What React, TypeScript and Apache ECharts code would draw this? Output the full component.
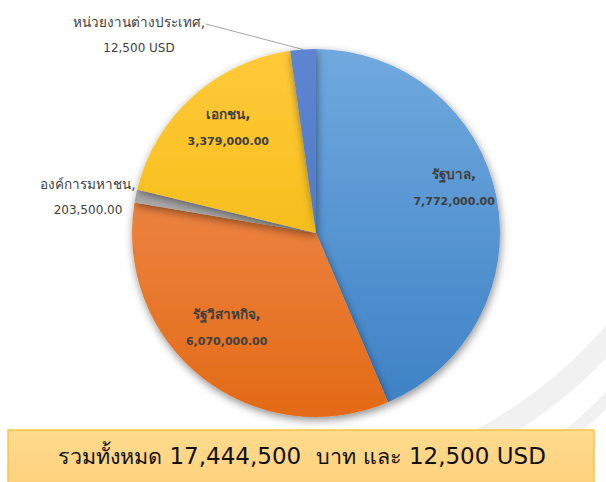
import React, { useEffect, useRef } from "react";
import * as echarts from "echarts";

const categories = ["รัฐบาล", "รัฐวิสาหกิจ", "องค์การมหาชน", "เอกชน", "หน่วยงานต่างประเทศ"];
// pie values in THB (foreign share converted to THB for slice size)
const sliceValues = [7772000, 6070000, 203500, 3379000, 400000];
const shownLabels = ["7,772,000.00", "6,070,000.00", "203,500.00", "3,379,000.00", "12,500 USD"];
const totalTHB = "17,444,500";
const totalUSD = "12,500";

const CX = 316;
const CY = 233;
const R = 184;
const FONT = "Tahoma, 'DejaVu Sans', 'Noto Sans', sans-serif";

function grad(top: string, bottom: string) {
  return new echarts.graphic.LinearGradient(0, CY - R, 0, CY + R, [
    { offset: 0, color: top },
    { offset: 1, color: bottom },
  ], true);
}

export default function App() {
  const ref = useRef<HTMLDivElement>(null);
  useEffect(() => {
    if (!ref.current) return;
    const chart = echarts.init(ref.current, undefined, { renderer: "svg" });
    const colors = [
      grad("#70A9DE", "#3C81C5"),
      grad("#F39460", "#E36A15"),
      grad("#B0B0B0", "#A0A0A0"),
      grad("#FFC93A", "#EDB500"),
      grad("#5E85D0", "#4370C2"),
    ];
    const insideIdx = [0, 1, 3];
    const insideShift: Record<number, [number, number]> = { 0: [0, -17], 1: [-2, -16], 3: [7, -1] };
    const mainData = categories.map((c, i) => ({
      name: c,
      value: sliceValues[i],
      itemStyle: { color: colors[i] },
      label: { show: !insideIdx.includes(i) },
      labelLine: { show: i === 4, lineStyle: { color: "#A6A6A6", width: 1 } },
    }));
    const labelData = categories.map((c, i) => ({
      name: c,
      value: sliceValues[i],
      label: { show: insideIdx.includes(i) },
    }));
    const fmt = (p: any) => `{t|${p.name},}\n{n|${shownLabels[p.dataIndex]}}`;
    chart.setOption({
      animation: false,
      graphic: [
        {
          type: "bezierCurve",
          shape: { x1: 470, y1: 445, cpx1: 560, cpy1: 400, x2: 625, y2: 320 },
          style: { stroke: "#F1F1F1", lineWidth: 22, fill: "none" },
          z: 0,
        },
        {
          type: "bezierCurve",
          shape: { x1: 555, y1: 445, cpx1: 590, cpy1: 420, x2: 625, y2: 380 },
          style: { stroke: "#F1F1F1", lineWidth: 12, fill: "none" },
          z: 0,
        },
        {
          type: "rect",
          shape: { x: 8, y: 430, width: 586, height: 60 },
          style: {
            fill: new echarts.graphic.LinearGradient(0, 0, 0, 1, [
              { offset: 0, color: "#FFDA8E" },
              { offset: 1, color: "#FFD27C" },
            ]),
            stroke: "#F7C548",
            lineWidth: 1.5,
          },
          z: 10,
        },
        {
          type: "text",
          x: 302,
          y: 456,
          style: {
            text: `{t|รวมทั้งหมด} {n|${totalTHB}}  {t|บาท และ} {n|${totalUSD} USD}`,
            rich: {
              t: { fontSize: 21.5, fontFamily: FONT, fill: "#111111" },
              n: { fontSize: 23, fontFamily: FONT, fill: "#111111" },
            },
            fontSize: 23,
            fontFamily: FONT,
            fill: "#111111",
            align: "center",
            verticalAlign: "middle",
          },
          z: 11,
        },
      ],
      series: [
        {
          type: "pie",
          center: [CX, CY],
          radius: R,
          startAngle: 90,
          clockwise: true,
          silent: true,
          avoidLabelOverlap: false,
          itemStyle: {
            shadowBlur: 8,
            shadowColor: "rgba(0,0,0,0.45)",
            shadowOffsetY: 3,
            shadowOffsetX: 1,
          },
          label: {
            position: "outside",
            formatter: fmt,
            color: "#404040",
            fontFamily: FONT,
            align: "center",
            rich: {
              t: { fontSize: 13.5, lineHeight: 26, color: "#404040", fontFamily: FONT, align: "center" },
              n: { fontSize: 12, lineHeight: 26, color: "#404040", fontFamily: FONT, align: "center" },
            },
          },
          labelLayout: (p: any) => {
            if (p.dataIndex === 2) {
              return { x: 88, y: 197, align: "center", verticalAlign: "middle" };
            }
            if (p.dataIndex === 4) {
              const start = p.labelLinePoints && p.labelLinePoints[0] ? p.labelLinePoints[0] : [303, 49];
              return {
                x: 139,
                y: 35,
                align: "center",
                verticalAlign: "middle",
                labelLinePoints: [start, [(start[0] + 206) / 2, (start[1] + 24) / 2], [206, 24]],
              };
            }
            return {};
          },
          data: mainData,
          z: 2,
        },
        {
          type: "pie",
          center: [CX, CY],
          radius: [92, R],
          startAngle: 90,
          clockwise: true,
          silent: true,
          avoidLabelOverlap: false,
          itemStyle: { color: "rgba(0,0,0,0)" },
          label: {
            position: "inside",
            formatter: fmt,
            color: "#404040",
            fontFamily: FONT,
            rich: {
              t: { fontSize: 13.5, fontWeight: "bold", lineHeight: 28, color: "#404040", fontFamily: FONT },
              n: { fontSize: 11, fontWeight: "bold", lineHeight: 28, color: "#404040", fontFamily: FONT },
            },
          },
          labelLine: { show: false },
          labelLayout: (p: any) => {
            const s = insideShift[p.dataIndex];
            return s ? { dx: s[0], dy: s[1] } : {};
          },
          data: labelData,
          z: 3,
        },
      ],
    });
    return () => chart.dispose();
  }, []);
  return (
    <div
      ref={ref}
      style={{ position: "fixed", left: 0, top: 0, width: 606, height: 482, background: "#ffffff" }}
    />
  );
}
